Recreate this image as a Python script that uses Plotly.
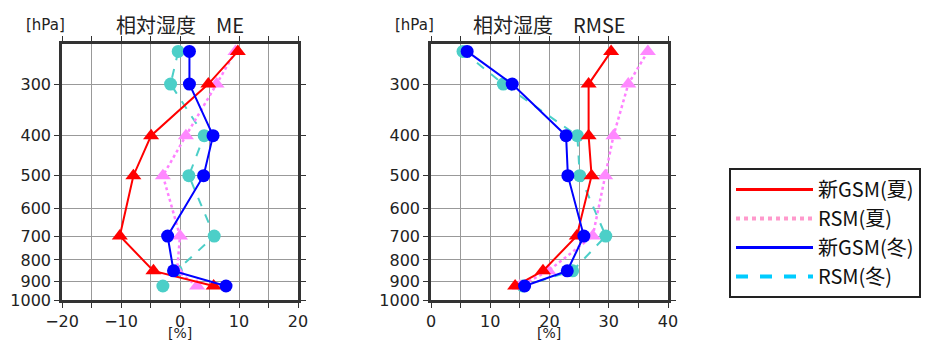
import plotly.graph_objects as go

levels = [250, 300, 400, 500, 700, 850, 925]

# ME panel
me_gsm_summer = [9.8, 4.8, -4.9, -7.9, -10.2, -4.5, 5.7]
me_rsm_summer = [9.4, 6.2, 1.0, -2.9, 0.0, -0.5, 2.9]
me_gsm_winter = [1.6, 1.6, 5.6, 4.0, -2.1, -1.1, 7.8]
me_rsm_winter = [-0.3, -1.6, 4.1, 1.5, 5.8, -0.6, -2.9]

# RMSE panel
rmse_gsm_summer = [30.4, 26.6, 26.6, 27.1, 24.6, 18.9, 14.2]
rmse_rsm_summer = [36.6, 33.3, 30.8, 29.4, 27.3, 19.8, 15.0]
rmse_gsm_winter = [6.1, 13.7, 22.8, 23.1, 25.8, 23.0, 15.8]
rmse_rsm_winter = [5.4, 12.2, 24.7, 25.1, 29.5, 23.9, 15.5]

series_names = ["新GSM(夏)", "RSM(夏)", "新GSM(冬)", "RSM(冬)"]
panel_titles = ["相対湿度　ME", "相対湿度　RMSE"]

y_tickvals = [300, 400, 500, 600, 700, 800, 900, 1000]
y_ticktext = ["300", "400", "500", "600", "700", "800", "900", "1000"]
me_xticks = [-20, -15, -10, -5, 0, 5, 10, 15, 20]
me_xtext = ["−20", "", "−10", "", "0", "", "10", "", "20"]
rmse_xticks = [0, 5, 10, 15, 20, 25, 30, 35, 40]
rmse_xtext = ["0", "", "10", "", "20", "", "30", "", "40"]

W, H = 932, 342
FONT = "DejaVu Sans"
CJK = "Noto Sans CJK JP"

def px(x):
    return x / W

def py(y):
    return (H - y) / H

fig = go.Figure()

styles = {
    "gsm_s": dict(line=dict(color="#ff0000", width=2), marker=dict(symbol="triangle-up", size=14, color="#ff0000")),
    "rsm_s": dict(line=dict(color="#ff80ff", width=2.5, dash="dot"), marker=dict(symbol="triangle-up", size=14, color="#ff88ff")),
    "gsm_w": dict(line=dict(color="#0000ff", width=2), marker=dict(symbol="circle", size=13, color="#0000ff")),
    "rsm_w": dict(line=dict(color="#4ccfc8", width=2, dash="dash"), marker=dict(symbol="circle", size=13, color="#4ccfc8")),
}

panels = [
    ("x", "y", me_gsm_summer, me_rsm_summer, me_gsm_winter, me_rsm_winter),
    ("x2", "y2", rmse_gsm_summer, rmse_rsm_summer, rmse_gsm_winter, rmse_rsm_winter),
]
for xa, ya, gs, rs, gw, rw in panels:
    for key, vals in [("rsm_w", rw), ("rsm_s", rs), ("gsm_s", gs), ("gsm_w", gw)]:
        fig.add_trace(go.Scatter(x=vals, y=levels, mode="lines+markers", xaxis=xa, yaxis=ya,
                                 showlegend=False, hoverinfo="skip", **styles[key]))

# legend-only traces
leg_styles = [
    dict(color="#ff0000", width=3, dash="solid"),
    dict(color="#ff99cc", width=4, dash="dot"),
    dict(color="#0000ff", width=3, dash="solid"),
    dict(color="#00ccff", width=4, dash="dash"),
]
for name, ls in zip(series_names, leg_styles):
    fig.add_trace(go.Scatter(x=[None], y=[None], mode="lines", name=name, line=ls, showlegend=True))

dom1 = [px(62), px(298)]
dom2 = [px(431), px(668)]
ydom = [py(300), py(44)]

axis_common = dict(showline=True, linecolor="#333333", linewidth=2.5, mirror="allticks",
                   ticks="outside", ticklen=5, tickcolor="#333333", tickwidth=1,
                   showgrid=True, gridcolor="#999999", gridwidth=1, zeroline=False,
                   automargin=False)
yfont = dict(family=FONT, size=16, color="#222222")
xfont = dict(family=FONT, size=16, color="#222222")

fig.update_layout(
    width=W, height=H,
    margin=dict(l=0, r=0, t=0, b=0, autoexpand=False),
    paper_bgcolor="white", plot_bgcolor="white",
    showlegend=True,
    xaxis=dict(domain=dom1, range=[-20, 20], tickmode="array", tickvals=me_xticks, ticktext=me_xtext,
               anchor="y", ticklabelstandoff=0, tickfont=xfont, **axis_common),
    yaxis=dict(domain=ydom, type="log", range=[3, 2.380], tickmode="array", tickvals=y_tickvals,
               ticktext=y_ticktext, anchor="x", tickfont=yfont, **axis_common),
    xaxis2=dict(domain=dom2, range=[0, 40], tickmode="array", tickvals=rmse_xticks, ticktext=rmse_xtext,
                anchor="y2", ticklabelstandoff=0, tickfont=xfont, **axis_common),
    yaxis2=dict(domain=ydom, type="log", range=[3, 2.380], tickmode="array", tickvals=y_tickvals,
                ticktext=y_ticktext, anchor="x2", tickfont=yfont, **axis_common),
    legend=dict(x=px(729), y=py(168), xanchor="left", yanchor="top",
                bordercolor="#222222", borderwidth=2, bgcolor="white",
                font=dict(family=CJK, size=20, color="#111111"),
                itemwidth=77, tracegroupgap=0),
)

ann = []
for cx, title in [(180, panel_titles[0]), (549, panel_titles[1])]:
    ann.append(dict(x=px(cx), y=py(25), xref="paper", yref="paper", text=title, showarrow=False,
                    font=dict(family=CJK, size=20, color="#222222"), xanchor="center", yanchor="middle"))
    ann.append(dict(x=px(cx), y=0, xref="paper", yref="paper", text="[%]", showarrow=False,
                    font=dict(family=FONT, size=14, color="#222222"), xanchor="center", yanchor="bottom",
                    borderpad=0))
for cx in [45, 414]:
    ann.append(dict(x=px(cx), y=py(25), xref="paper", yref="paper", text="[hPa]", showarrow=False,
                    font=dict(family=FONT, size=15, color="#222222"), xanchor="center", yanchor="middle"))
fig.update_layout(annotations=ann)

fig.write_html("out.html")
